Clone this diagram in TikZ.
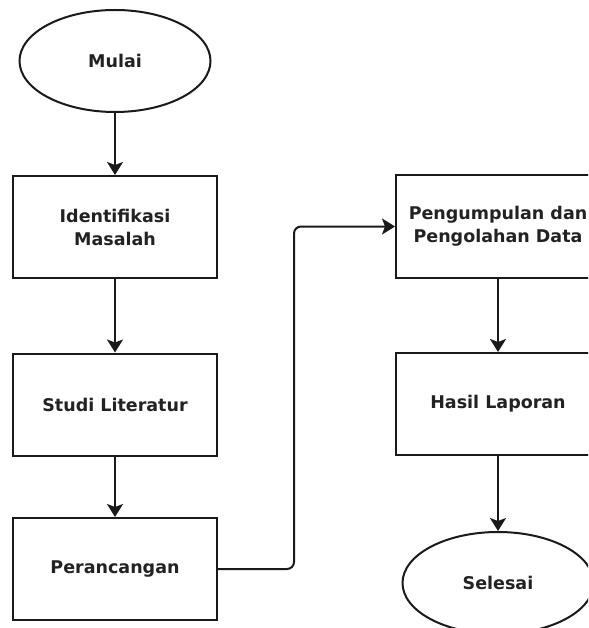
\documentclass[tikz,border=0pt]{standalone}
\usepackage{fontspec}
\setmainfont{DejaVu Sans}
\usetikzlibrary{arrows.meta,shapes.geometric}
\definecolor{txt}{HTML}{222222}
\definecolor{ln}{HTML}{1A1A1A}
\begin{document}
\begin{tikzpicture}[x=1pt,y=-1pt,
  lbl/.style={text=txt, font=\bfseries\fontsize{17.5}{23}\selectfont},
  box/.style={draw=ln, line width=2pt, rectangle, minimum width=204pt, minimum height=102pt, align=center, inner sep=0pt, lbl},
  term/.style={draw=ln, line width=2pt, ellipse, minimum width=191pt, minimum height=102pt, inner sep=0pt, lbl},
  arr/.style={draw=ln, line width=2pt, -{Stealth[length=13pt,width=16pt,inset=3pt]}}]
\useasboundingbox (0,0) rectangle (588,628);
\clip (0,0) rectangle (588,628);
\node[term] (mulai) at (115,61) {Mulai};
\node[box] (iden) at (115,227) {Identifikasi\\Masalah};
\node[box] (studi) at (115,404.5) {Studi Literatur};
\node[box] (peran) at (115,569) {Perancangan};
\node[box] (peng) at (498,226.5) {Pengumpulan dan\\Pengolahan Data};
\node[box] (hasil) at (498,404) {Hasil Laporan};
\node[term] (sel) at (498,583) {Selesai};
\draw[arr] (mulai) -- (iden);
\draw[arr] (iden) -- (studi);
\draw[arr] (studi) -- (peran);
\draw[arr] (peng) -- (hasil);
\draw[arr] (hasil) -- (sel);
\draw[arr, rounded corners=7pt] (peran.east) -| ([xshift=-101pt]peng.west) -- (peng.west);
\end{tikzpicture}
\end{document}
